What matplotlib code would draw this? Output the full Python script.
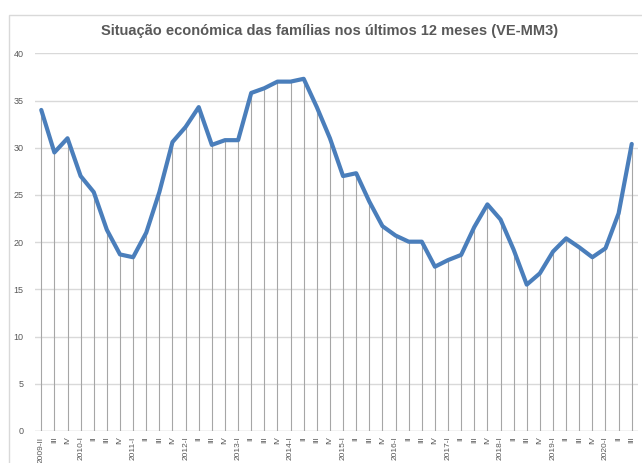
import matplotlib
matplotlib.use("Agg")
import matplotlib.pyplot as plt
from matplotlib.patches import Rectangle

plt.rcParams['font.family'] = ['Liberation Sans', 'DejaVu Sans']

quarters = ["2009-II", "III", "IV",
            "2010-I", "II", "III", "IV",
            "2011-I", "II", "III", "IV",
            "2012-I", "II", "III", "IV",
            "2013-I", "II", "III", "IV",
            "2014-I", "II", "III", "IV",
            "2015-I", "II", "III", "IV",
            "2016-I", "II", "III", "IV",
            "2017-I", "II", "III", "IV",
            "2018-I", "II", "III", "IV",
            "2019-I", "II", "III", "IV",
            "2020-I", "II", "III"]
values = [34.0, 29.5, 31.0,
          27.0, 25.3, 21.3, 18.7,
          18.4, 21.0, 25.3, 30.6,
          32.2, 34.3, 30.3, 30.8,
          30.8, 35.8, 36.3, 37.0,
          37.0, 37.3, 34.3, 31.0,
          27.0, 27.3, 24.3, 21.7,
          20.7, 20.05, 20.05, 17.4,
          18.1, 18.65, 21.6, 24.0,
          22.4, 19.2, 15.5, 16.7,
          19.0, 20.4, 19.45, 18.4,
          19.35, 23.05, 30.4]
yticks = [0, 5, 10, 15, 20, 25, 30, 35, 40]
title = "Situação económica das famílias nos últimos 12 meses (VE-MM3)"

W, H = 642, 463
fig = plt.figure(figsize=(W / 100, H / 100), dpi=100)

# chart border (cropped at right and bottom)
fig.patches.append(Rectangle((9 / W, -0.1), 1.2, (H - 15) / H + 0.1,
                             transform=fig.transFigure, fill=False,
                             edgecolor='#D9D9D9', linewidth=1.0))

left, right = 34.7, 638.3
top, bottom = 53.3, 431.0
ax = fig.add_axes([left / W, 1 - bottom / H, (right - left) / W, (bottom - top) / H])

x = list(range(len(values)))
ax.set_xlim(-0.5, len(values) - 0.5)
ax.set_ylim(0, 40)

for yv in yticks[1:]:
    ax.axhline(yv, color='#D9D9D9', linewidth=1.0, zorder=0)
ax.axhline(0, color='#BFBFBF', linewidth=1.0, zorder=1)

ax.vlines(x, 0, values, color='#A6A6A6', linewidth=0.8, zorder=2)
ax.plot(x, values, color='#4A7EBB', linewidth=3.0, solid_joinstyle='round',
        solid_capstyle='round', zorder=3)

for s in ax.spines.values():
    s.set_visible(False)

ax.set_yticks(yticks)
ax.set_yticklabels([str(v) for v in yticks], fontsize=6.5, color='#595959')
ax.set_xticks(x)
ax.set_xticklabels(quarters, rotation=90, fontsize=6.0, color='#595959')
ax.tick_params(axis='both', length=0)
ax.tick_params(axis='y', pad=8)
ax.tick_params(axis='x', pad=4)

fig.text(330 / W, 1 - 31 / H, title, ha='center', va='center',
         fontsize=10.5, fontweight='bold', color='#595959')

fig.savefig("out.png", dpi=100)
